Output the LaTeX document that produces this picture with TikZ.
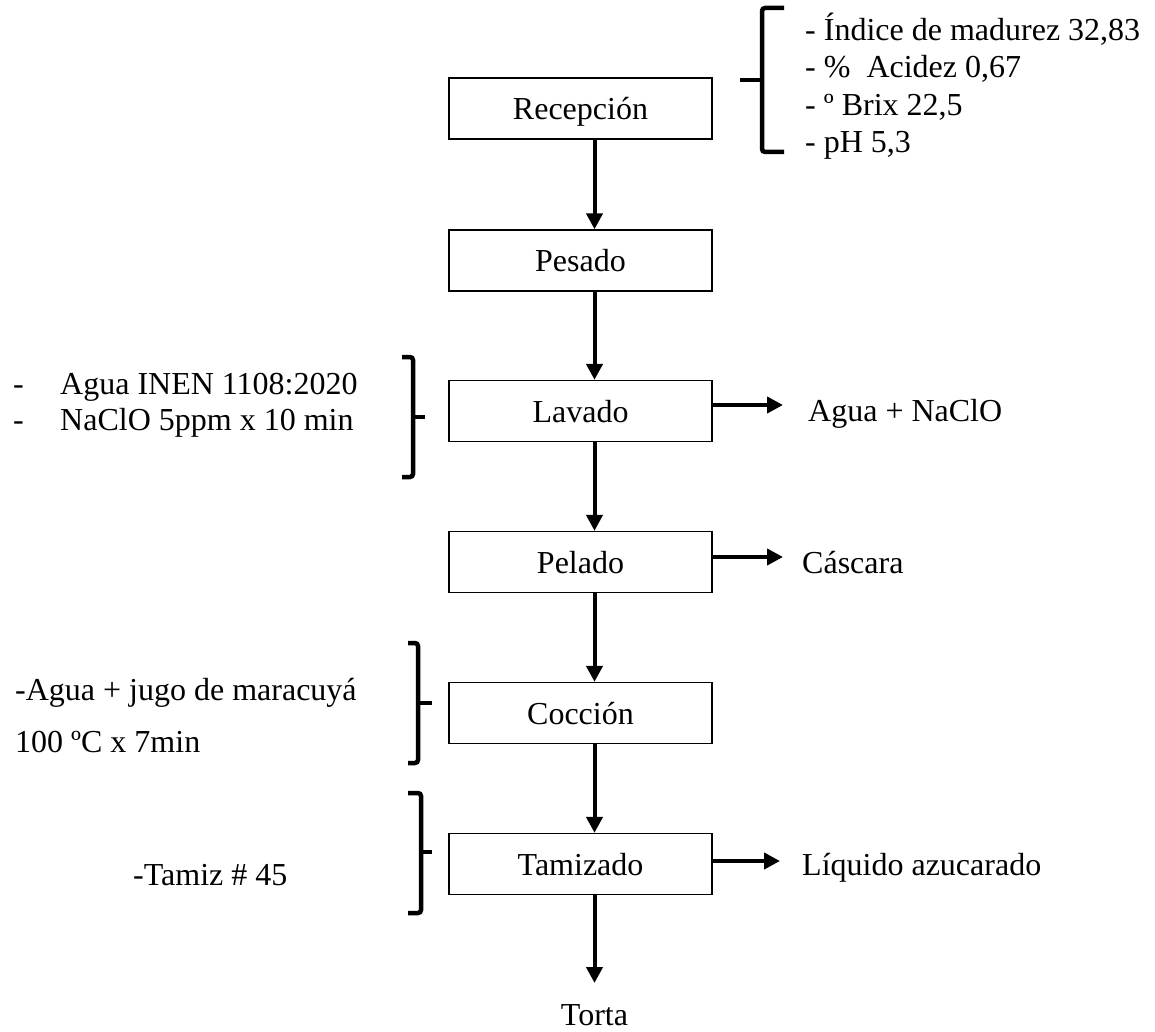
\documentclass[tikz,border=0pt]{standalone}
\usepackage{fontspec}
\setmainfont{Liberation Serif}
\usetikzlibrary{arrows.meta}
\begin{document}
\begin{tikzpicture}[x=1pt,y=-1pt,
  procbox/.style={draw, line width=1.3pt, minimum width=263pt, minimum height=61pt, inner sep=0pt,
    font=\fontsize{32}{38}\selectfont, text height=24pt, text depth=2pt},
  lbl/.style={inner sep=0pt, font=\fontsize{32}{38}\selectfont, anchor=base west},
  flow/.style={line width=4pt, -{Triangle[width=16pt,length=16pt]}},
  brk/.style={line width=4.5pt, rounded corners=3pt}]
\useasboundingbox (0,0) rectangle (1155,1032);

% process boxes
\node[procbox] (rec) at (580.5,108.5) {Recepción};
\node[procbox] (pes) at (580.5,260.5) {Pesado};
\node[procbox] (lav) at (580.5,411) {Lavado};
\node[procbox] (pel) at (580.5,562) {Pelado};
\node[procbox] (coc) at (580.5,713) {Cocción};
\node[procbox] (tam) at (580.5,864) {Tamizado};

\coordinate (ax) at (594.5,0);

% main flow
\draw[flow] (rec.south -| ax) -- (pes.north -| ax);
\draw[flow] (pes.south -| ax) -- (lav.north -| ax);
\draw[flow] (lav.south -| ax) -- (pel.north -| ax);
\draw[flow] (pel.south -| ax) -- (coc.north -| ax);
\draw[flow] (coc.south -| ax) -- (tam.north -| ax);
\coordinate (tortain) at (594.5,983);
\draw[flow] (tam.south -| ax) -- (tortain);
\node[lbl, anchor=base] (torta) at (594.5,1025) {Torta};

% outputs
\coordinate (lavout) at (783,405);
\draw[flow] (lav.east |- lavout) -- (lavout);
\node[lbl] (lavtxt) at (808,421) {Agua + NaClO};

\coordinate (pelout) at (783,557);
\draw[flow] (pel.east |- pelout) -- (pelout);
\node[lbl] (peltxt) at (802,573) {Cáscara};

\coordinate (tamout) at (780,861);
\draw[flow] (tam.east |- tamout) -- (tamout);
\node[lbl] (tamtxt) at (802,875) {Líquido azucarado};

% top-right brace and list
\draw[brk] (784,8) -- (762,8) -- (762,152) -- (784,152);
\draw[brk] (762,80) -- (740,80);
\node[lbl] (r1) at (805,41) {- Índice de madurez 32,83};
\node[lbl] (r2) at (805,78) {- \%~ Acidez 0,67};
\node[lbl] (r3) at (805,116) {- º Brix 22,5};
\node[lbl] (r4) at (805,153) {- pH 5,3};

% Lavado bracket and list
\draw[brk] (402,357) -- (413,357) -- (413,477) -- (402,477);
\draw[brk] (413,417) -- (425,417);
\node[lbl] (l1d) at (13,394) {-};
\node[lbl] (l1) at (60,394) {Agua INEN 1108:2020};
\node[lbl] (l2d) at (13,430) {-};
\node[lbl] (l2) at (60,430) {NaClO 5ppm x 10 min};

% Coccion bracket and list
\draw[brk] (408,643) -- (418,643) -- (418,763) -- (408,763);
\draw[brk] (418,703) -- (432,703);
\node[lbl] (c1) at (15,700) {-Agua + jugo de maracuyá};
\node[lbl] (c2) at (15,752) {100 ºC x 7min};

% Tamizado bracket and text
\draw[brk] (408,793) -- (421,793) -- (421,913) -- (408,913);
\draw[brk] (421,852) -- (432,852);
\node[lbl] (t1) at (133,885) {-Tamiz \# 45};
\end{tikzpicture}
\end{document}
